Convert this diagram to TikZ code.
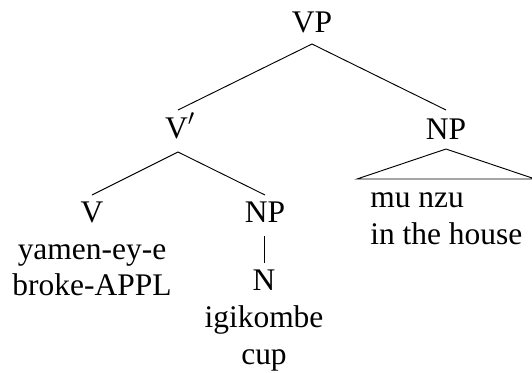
\documentclass[tikz,border=0pt]{standalone}
\usepackage{fontspec}
\setmainfont{Liberation Serif}
\usetikzlibrary{calc}
\begin{document}
\begin{tikzpicture}[x=0.75pt,y=-0.75pt,
  lab/.style={font=\fontsize{23.6}{27.75}\selectfont, inner sep=0pt, anchor=base},
  labl/.style={lab, anchor=base west},
  edge/.style={line width=0.7pt, black}]
\useasboundingbox (0,0) rectangle (532,372);
% nodes
\node[lab] (VP) at (312,32) {VP};
\node[lab] (Vbar) at (180,138) {V$'$};
\node[lab] (NPr) at (446,139) {NP};
\node[lab] (V) at (92,222) {V};
\node[lab] (NPl) at (265,222) {NP};
\node[lab] (yam) at (92,259) {yamen-ey-e};
\node[lab] (broke) at (92,295) {broke-APPL};
\node[lab] (N) at (264,290) {N};
\node[lab] (igi) at (264,327) {igikombe};
\node[lab] (cup) at (264,364) {cup};
\node[labl] (mu) at (370,207) {mu nzu};
\node[labl] (house) at (370,244) {in the house};
% connectors
\draw[edge] ($(VP.base)+(0,12)$) -- ($(Vbar.base)+(-2,-28)$);
\draw[edge] ($(VP.base)+(0,12)$) -- ($(NPr.base)+(0,-29)$);
\draw[edge] ($(Vbar.base)+(-2,14)$) -- ($(V.base)+(0,-27)$);
\draw[edge] ($(Vbar.base)+(-2,14)$) -- ($(NPl.base)+(0,-27)$);
\draw[edge] ($(NPl.base)+(-1,14)$) -- ($(N.base)+(0,-27)$);
\draw[edge] ($(NPr.base)+(0,10)$) -- ($(NPr.base)+(-89,40)$) -- ($(NPr.base)+(89,40)$) -- cycle;
\end{tikzpicture}
\end{document}
